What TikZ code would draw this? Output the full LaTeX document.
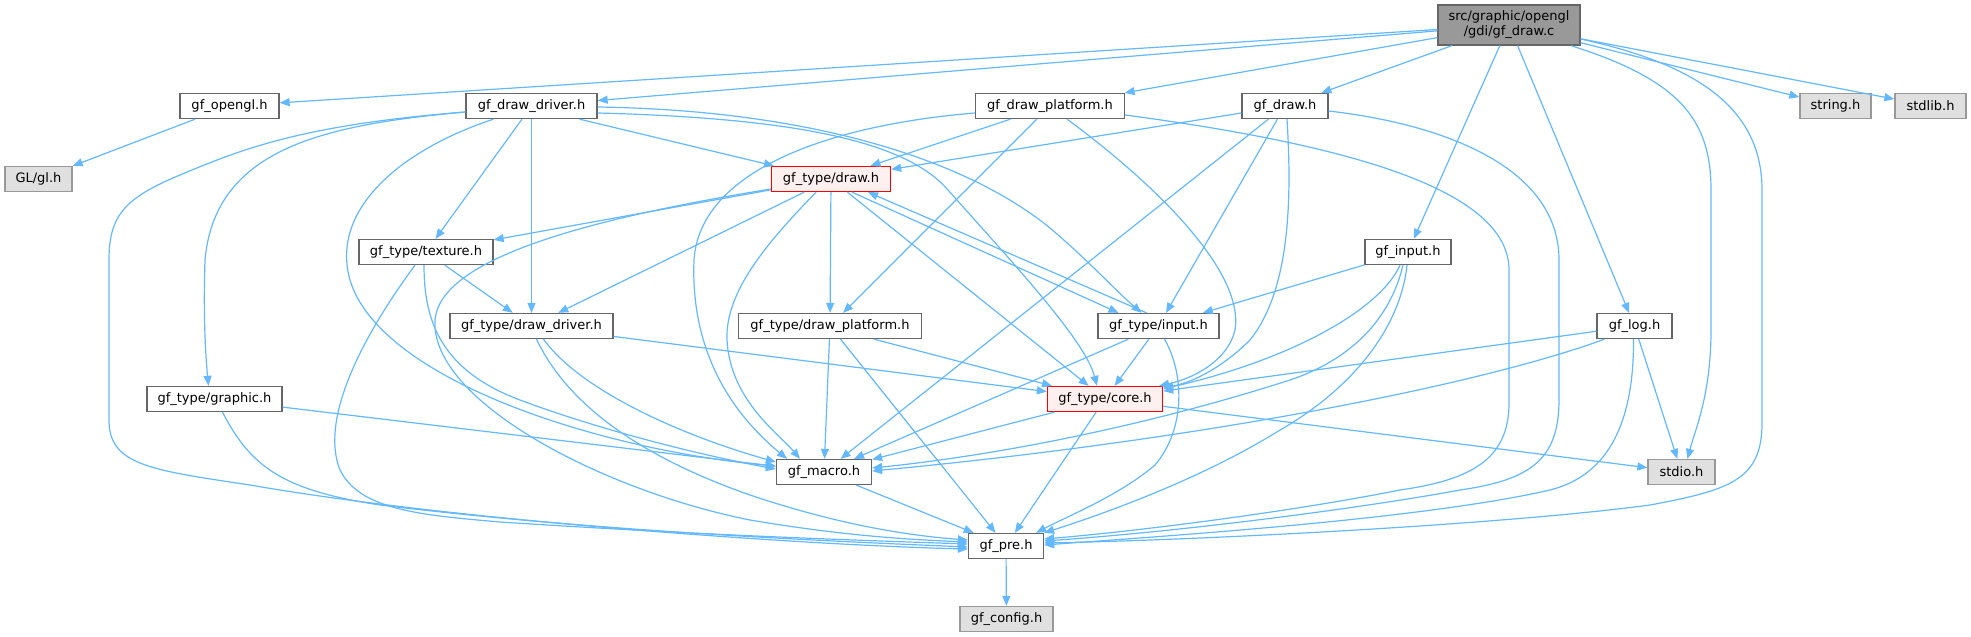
\documentclass[tikz,border=0pt]{standalone}
\usepackage{fontspec}
\setmainfont{DejaVu Sans}
\usetikzlibrary{arrows.meta}
\definecolor{edgec}{HTML}{63B8FF}
\definecolor{boxd}{HTML}{666666}
\definecolor{grayd}{HTML}{999999}
\definecolor{grayf}{HTML}{E0E0E0}
\definecolor{mainf}{HTML}{999999}
\definecolor{redf}{HTML}{FFF0F0}
\definecolor{redd}{HTML}{FF0000}
\tikzset{
  e/.style={draw=edgec, line width=1.2pt, -{Triangle[length=10pt,width=8pt]}},
  box/.style={draw=boxd, line width=1.3pt, fill=white, minimum height=25pt, inner sep=0pt, font=\fontsize{13}{15}\selectfont},
  graybox/.style={box, draw=grayd, fill=grayf},
  redbox/.style={box, draw=redd, fill=redf},
  mainbox/.style={box, fill=mainf, minimum height=40pt, align=center}
}
\begin{document}
\begin{tikzpicture}[x=1pt,y=-1pt]
\useasboundingbox (0,0) rectangle (1971,637);
% nodes
\node[mainbox, minimum width=142pt] (main) at (1509,25) {src/graphic/opengl\\/gdi/gf\_draw.c};
\node[box, minimum width=99pt] (gfopengl) at (229.5,106) {gf\_opengl.h};
\node[box, minimum width=131pt] (ddrv) at (531.5,106) {gf\_draw\_driver.h};
\node[box, minimum width=149pt] (dplat) at (1050,106) {gf\_draw\_platform.h};
\node[box, minimum width=86pt] (gdraw) at (1285,106) {gf\_draw.h};
\node[graybox, minimum width=71pt] (string) at (1835.5,106) {string.h};
\node[graybox, minimum width=71pt] (stdlib) at (1930.5,106) {stdlib.h};
\node[graybox, minimum width=67pt] (gl) at (38.5,179) {GL/gl.h};
\node[redbox, minimum width=119pt] (tdraw) at (831,179) {gf\_type/draw.h};
\node[box, minimum width=134pt] (ttex) at (426,252) {gf\_type/texture.h};
\node[box, minimum width=86pt] (ginput) at (1408,252) {gf\_input.h};
\node[box, minimum width=163pt] (tddrv) at (531.5,326) {gf\_type/draw\_driver.h};
\node[box, minimum width=183pt] (tdplat) at (830,326) {gf\_type/draw\_platform.h};
\node[box, minimum width=121pt] (tinput) at (1158.5,326) {gf\_type/input.h};
\node[box, minimum width=75pt] (glog) at (1634.5,326) {gf\_log.h};
\node[box, minimum width=135pt] (tgraphic) at (214.5,399) {gf\_type/graphic.h};
\node[redbox, minimum width=115pt] (tcore) at (1105,399) {gf\_type/core.h};
\node[box, minimum width=95pt] (macro) at (824,472) {gf\_macro.h};
\node[graybox, minimum width=67pt] (stdio) at (1681.5,472) {stdio.h};
\node[box, minimum width=75pt] (pre) at (1006,546) {gf\_pre.h};
\node[graybox, minimum width=93pt] (config) at (1006.5,619) {gf\_config.h};

% main
\draw[e] (main) -- (gfopengl);
\draw[e] (main) -- (ddrv);
\draw[e] (main) -- (dplat);
\draw[e] (main) -- (gdraw);
\draw[e] (main) -- (ginput);
\draw[e] (main) -- (glog);
\draw[e] (main) -- (string);
\draw[e] (main) -- (stdlib);
\draw[e] ([xshift=62pt]main.south) .. controls (1680,80) and (1711,120) .. (1711,190) -- (1711,330) .. controls (1711,395) and (1695,430) .. ([xshift=6pt]stdio.north);
\draw[e] ([yshift=-14pt]main.east) .. controls (1700,65) and (1762,110) .. (1762,190) -- (1762,423) .. controls (1762,480) and (1730,490) .. (1650,505) .. controls (1500,525) and (1200,540) .. ([yshift=3pt]pre.east);

% gf_opengl
\draw[e] (gfopengl) -- (gl);

% gf_draw_driver
\draw[e] ([xshift=48pt]ddrv.south) -- ([xshift=-57pt]tdraw.north);
\draw[e] (ddrv) -- (ttex);
\draw[e] (ddrv) -- (tddrv);
\draw[e] ([yshift=-6pt]ddrv.west) .. controls (320,125) and (215,150) .. (205,260) .. controls (203,320) and (206,360) .. ([xshift=-6pt]tgraphic.north);
\draw[e] ([yshift=-6pt]ddrv.west) .. controls (300,125) and (240,150) .. (180,175) .. controls (125,198) and (109,215) .. (109,260) -- (109,420) .. controls (109,465) and (150,470) .. (250,485) .. controls (450,520) and (800,545) .. ([yshift=-3pt]pre.west);
\draw[e] ([xshift=-38pt]ddrv.south) .. controls (400,150) and (330,210) .. (350,280) .. controls (380,380) and (600,450) .. ([yshift=6pt]macro.west);
\draw[e] ([yshift=-1pt]ddrv.east) .. controls (800,110) and (960,155) .. (1050,228) .. controls (1090,262) and (1115,290) .. ([xshift=-17pt]tinput.north);
\draw[e] ([yshift=-7pt]ddrv.east) .. controls (790,118) and (905,140) .. (948,190) .. controls (1012,262) and (1085,340) .. ([xshift=-8pt]tcore.north);

% gf_draw_platform
\draw[e] (dplat) -- (tdraw);
\draw[e] (dplat) -- (tdplat);
\draw[e] ([xshift=17pt]dplat.south) .. controls (1150,180) and (1245,270) .. (1235,330) .. controls (1228,360) and (1195,378) .. ([xshift=-4pt]tcore.north east);
\draw[e] ([yshift=-7pt]dplat.west) .. controls (830,125) and (700,170) .. (694,260) .. controls (690,360) and (740,420) .. ([xshift=-37pt]macro.north);
\draw[e] ([yshift=-9pt]dplat.east) .. controls (1350,145) and (1509,190) .. (1509,270) -- (1509,403) .. controls (1509,460) and (1470,480) .. (1400,490) .. controls (1300,510) and (1150,530) .. ([yshift=7pt]pre.east);

% gf_draw
\draw[e] (gdraw) -- (tdraw);
\draw[e] (gdraw) -- (macro);
\draw[e] (gdraw) -- (tinput);
\draw[e] ([xshift=2pt]gdraw.south) .. controls (1292,200) and (1290,290) .. (1250,340) .. controls (1225,365) and (1195,382) .. ([yshift=-2pt]tcore.north east);
\draw[e] ([yshift=-5pt]gdraw.east) .. controls (1450,125) and (1559,170) .. (1559,260) -- (1559,400) .. controls (1559,460) and (1530,480) .. (1460,490) .. controls (1380,505) and (1200,530) .. ([yshift=5pt]pre.east);

% gf_type/draw
\draw[e] (tdraw) -- (ttex);
\draw[e] (tdraw) -- (tddrv);
\draw[e] (tdraw) -- (tdplat);
\draw[e] (tdraw) -- (tcore);
\draw[e] ([xshift=21pt]tdraw.south) -- ([xshift=-40pt]tinput.north);
\draw[e] ([xshift=-15pt]tdraw.south) .. controls (770,240) and (725,290) .. (727,340) .. controls (730,400) and (780,435) .. ([xshift=-24pt]macro.north);
\draw[e] ([yshift=-10pt]tdraw.west) .. controls (580,220) and (440,260) .. (435,320) .. controls (430,400) and (600,490) .. (750,520) .. controls (850,537) and (920,540) .. ([yshift=4pt]pre.west);

% gf_input
\draw[e] (ginput) -- (tinput);
\draw[e] ([xshift=-8pt]ginput.south) .. controls (1380,310) and (1290,360) .. ([yshift=-3pt]tcore.north east);
\draw[e] ([xshift=-5pt]ginput.south) .. controls (1390,320) and (1350,360) .. (1290,380) .. controls (1150,425) and (1000,455) .. ([yshift=4pt]macro.east);
\draw[e] ([xshift=-1pt]ginput.south) .. controls (1400,330) and (1350,390) .. (1280,430) .. controls (1200,480) and (1100,515) .. (pre.north east);

% gf_log
\draw[e] (glog) -- (tcore);
\draw[e] ([xshift=-30pt]glog.south) .. controls (1480,385) and (1200,440) .. ([yshift=1pt]macro.east);
\draw[e] (glog) -- (stdio);
\draw[e] ([xshift=-1pt]glog.south) .. controls (1634,420) and (1610,475) .. (1550,490) .. controls (1420,520) and (1150,537) .. ([yshift=1pt]pre.east);

% gf_type/texture
\draw[e] (ttex) -- (tddrv);
\draw[e] ([xshift=-2pt]ttex.south) .. controls (424,320) and (440,370) .. (520,400) .. controls (600,430) and (700,455) .. ([yshift=3pt]macro.west);
\draw[e] ([xshift=-11pt]ttex.south) .. controls (360,340) and (320,420) .. (340,470) .. controls (360,510) and (420,515) .. (500,522) .. controls (700,535) and (850,540) .. ([yshift=2pt]pre.west);

% gf_type/draw_driver
\draw[e] (tddrv) -- (tcore);
\draw[e] ([xshift=12pt]tddrv.south) .. controls (580,390) and (680,435) .. ([yshift=10pt]macro.west);
\draw[e] ([xshift=5pt]tddrv.south) .. controls (570,410) and (650,460) .. (750,495) .. controls (830,522) and (900,535) .. ([yshift=6pt]pre.west);

% gf_type/graphic
\draw[e] (tgraphic) -- (macro);
\draw[e] ([xshift=8pt]tgraphic.south) .. controls (250,465) and (280,490) .. (380,505) .. controls (600,532) and (850,542) .. ([yshift=-1pt]pre.west);

% gf_type/draw_platform
\draw[e] (tdplat) -- (macro);
\draw[e] (tdplat) -- (pre);
\draw[e] ([xshift=44pt]tdplat.south) -- ([xshift=-53pt]tcore.north);

% gf_type/input
\draw[e] ([xshift=-12pt]tinput.north) -- ([xshift=37pt]tdraw.south);
\draw[e] (tinput) -- (tcore);
\draw[e] (tinput) -- (macro);
\draw[e] ([xshift=6pt]tinput.south) .. controls (1185,375) and (1185,430) .. (1155,465) .. controls (1120,495) and (1070,515) .. ([xshift=-8pt]pre.north east);

% gf_type/core
\draw[e] (tcore) -- (macro);
\draw[e] (tcore) -- (pre);
\draw[e] (tcore) -- (stdio);

% gf_macro, gf_pre
\draw[e] (macro) -- (pre);
\draw[e] (pre) -- (config);
\end{tikzpicture}
\end{document}
